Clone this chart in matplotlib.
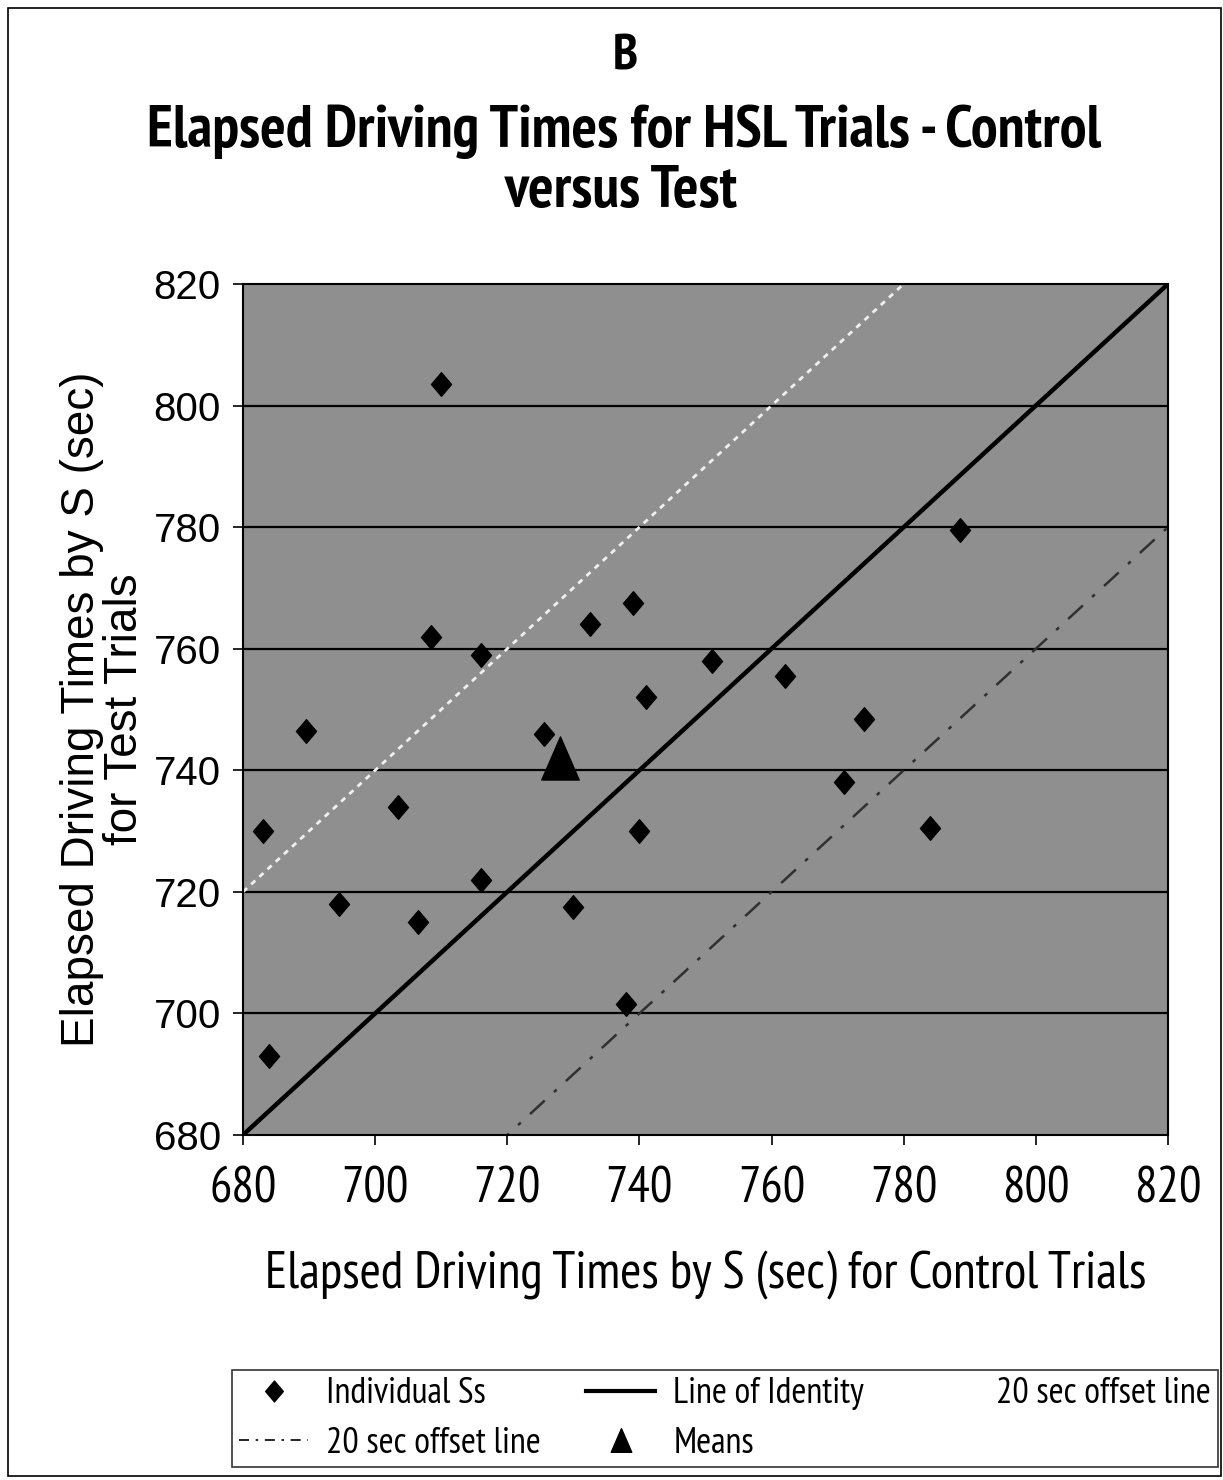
import matplotlib
matplotlib.use("Agg")
import matplotlib.pyplot as plt
from matplotlib import font_manager
from matplotlib.path import Path
from matplotlib.lines import Line2D
from matplotlib.patches import Rectangle

# individual subjects (control, test)
control_s = [683, 684, 689.5, 694.5, 703.5, 706.5, 708.5, 710, 716, 716, 725.5, 730,
             732.5, 738, 739, 740, 741, 751, 762, 771, 774, 784, 788.5]
test_s = [730, 693, 746.5, 718, 734, 715, 762, 803.5, 759, 722, 746, 717.5,
          764, 701.5, 767.5, 730, 752, 758, 755.5, 738, 748.5, 730.5, 779.5]

# means
mean_control = [728]
mean_test = [742]

# reference lines
ref_x = [680, 820]
offset = 40
ticks = [680, 700, 720, 740, 760, 780, 800, 820]

installed = {f.name for f in font_manager.fontManager.ttflist}
narrow = 'Liberation Sans'
for name in ['Liberation Sans Narrow', 'Arial Narrow', 'Nimbus Sans Narrow',
             'PT Sans Narrow', 'Roboto Condensed', 'Pragati Narrow', 'Asap Condensed']:
    if name in installed:
        narrow = name
        break
NARROW = [narrow, 'DejaVu Sans']
REG = ['Liberation Sans', 'DejaVu Sans']
plt.rcParams['font.family'] = REG

diamond = Path([(0, 1), (0.85, 0), (0, -1), (-0.85, 0), (0, 1)],
               [Path.MOVETO, Path.LINETO, Path.LINETO, Path.LINETO, Path.CLOSEPOLY])
triangle = Path([(0, 1), (0.87, -1), (-0.87, -1), (0, 1)],
                [Path.MOVETO, Path.LINETO, Path.LINETO, Path.CLOSEPOLY])

W, H = 1223, 1480
fig = plt.figure(figsize=(W / 100, H / 100), dpi=100)
ax = fig.add_axes([243 / W, 1 - 1135 / H, 925 / W, 851 / H])
ax.set_facecolor('#8f8f8f')

for t in ticks[1:-1]:
    ax.axhline(t, color='black', lw=1.6, zorder=1)

upper = [v + offset for v in ref_x]
lower = [v - offset for v in ref_x]
ax.plot(ref_x, upper, color='#f0f0f0', lw=2, linestyle=(0, (2, 2)), zorder=2)
ax.plot(ref_x, lower, color='#303030', lw=1.8, linestyle=(0, (8, 5, 1.5, 5)), zorder=2)
ax.plot(ref_x, ref_x, color='black', lw=3.2, zorder=3)

ax.plot(control_s, test_s, linestyle='none', marker=diamond, ms=17,
        color='black', zorder=4)
ax.plot(mean_control, mean_test, linestyle='none', marker=triangle, ms=31,
        color='black', zorder=5)

ax.set_xlim(680, 820)
ax.set_ylim(680, 820)
ax.set_xticks(ticks)
ax.set_yticks(ticks)
ax.tick_params(axis='both', direction='out', length=7, width=1.2, colors='black')
ax.tick_params(axis='y', labelsize=29, pad=9)
ax.tick_params(axis='x', labelsize=36, pad=16)
for lab in ax.get_xticklabels():
    lab.set_family(NARROW)
for s in ax.spines.values():
    s.set_linewidth(1.5)
    s.set_color('black')

xl = ax.set_xlabel('Elapsed Driving Times by S (sec) for Control Trials', fontsize=34,
                   family=NARROW, va='center')
ax.xaxis.set_label_coords(0.5, -0.165)
ax.set_ylabel('Elapsed Driving Times by S (sec)\nfor Test Trials', fontsize=33,
              linespacing=0.95)
ax.yaxis.set_label_coords(-0.104, 0.5)

tb = fig.text(0.511, 1 - 57 / H, 'B', ha='center', va='center', fontsize=37,
              fontweight='bold', family=NARROW)
t1 = fig.text(0.510, 1 - 132 / H, 'Elapsed Driving Times for HSL Trials - Control',
              ha='center', va='center', fontsize=40, fontweight='bold', family=NARROW)
t2 = fig.text(0.508, 1 - 192 / H, 'versus Test',
              ha='center', va='center', fontsize=40, fontweight='bold', family=NARROW)

fig.patches.append(Rectangle((8 / W, 4 / H), 1213 / W, 1468 / H,
                             transform=fig.transFigure, fill=False,
                             edgecolor='black', lw=1.2))

# size the narrow texts to the widths seen in the chart
fig.canvas.draw()
r = fig.canvas.get_renderer()
def fit(t, target):
    w = t.get_window_extent(r).width
    t.set_fontsize(t.get_fontsize() * target / w)
fit(t1, 952)
t2.set_fontsize(t1.get_fontsize())
fit(xl, 882)

h_ss = Line2D([], [], linestyle='none', marker=diamond, ms=15, color='black')
h_id = Line2D([], [], color='black', lw=3)
h_up = Line2D([], [], color='white', lw=2)
h_lo = Line2D([], [], color='black', lw=1.2, linestyle=(0, (6, 4, 1.5, 4)))
h_mn = Line2D([], [], linestyle='none', marker=triangle, ms=17, color='black')
handles = [h_ss, h_lo, h_id, h_mn, h_up]
labels = ['Individual Ss', '20 sec offset line', 'Line of Identity', 'Means',
          '20 sec offset line']

leg_fs = 24
probe = fig.text(0, 0, 'Individual Ss', fontsize=leg_fs, family=NARROW)
fig.canvas.draw()
leg_fs = leg_fs * 160 / probe.get_window_extent(r).width
probe.remove()

def make_legend(cs):
    lg = fig.legend(handles, labels, ncol=3, loc='upper left',
                    bbox_to_anchor=(232 / W, 1 - 1370 / H),
                    prop={'family': NARROW, 'size': leg_fs},
                    frameon=True, fancybox=False, edgecolor='black',
                    handlelength=1.9, handletextpad=0.5, borderpad=0.2,
                    borderaxespad=0, labelspacing=0.45, columnspacing=cs)
    lg.get_frame().set_linewidth(1.2)
    return lg

cs = 2.0
leg = make_legend(cs)
fig.canvas.draw()
wl = leg.get_window_extent(r).width
leg.remove()
fs_px = leg_fs * 100 / 72
cs = cs + (986 - wl) / (2 * fs_px)
leg = make_legend(cs)

fig.savefig('out.png', dpi=100)
